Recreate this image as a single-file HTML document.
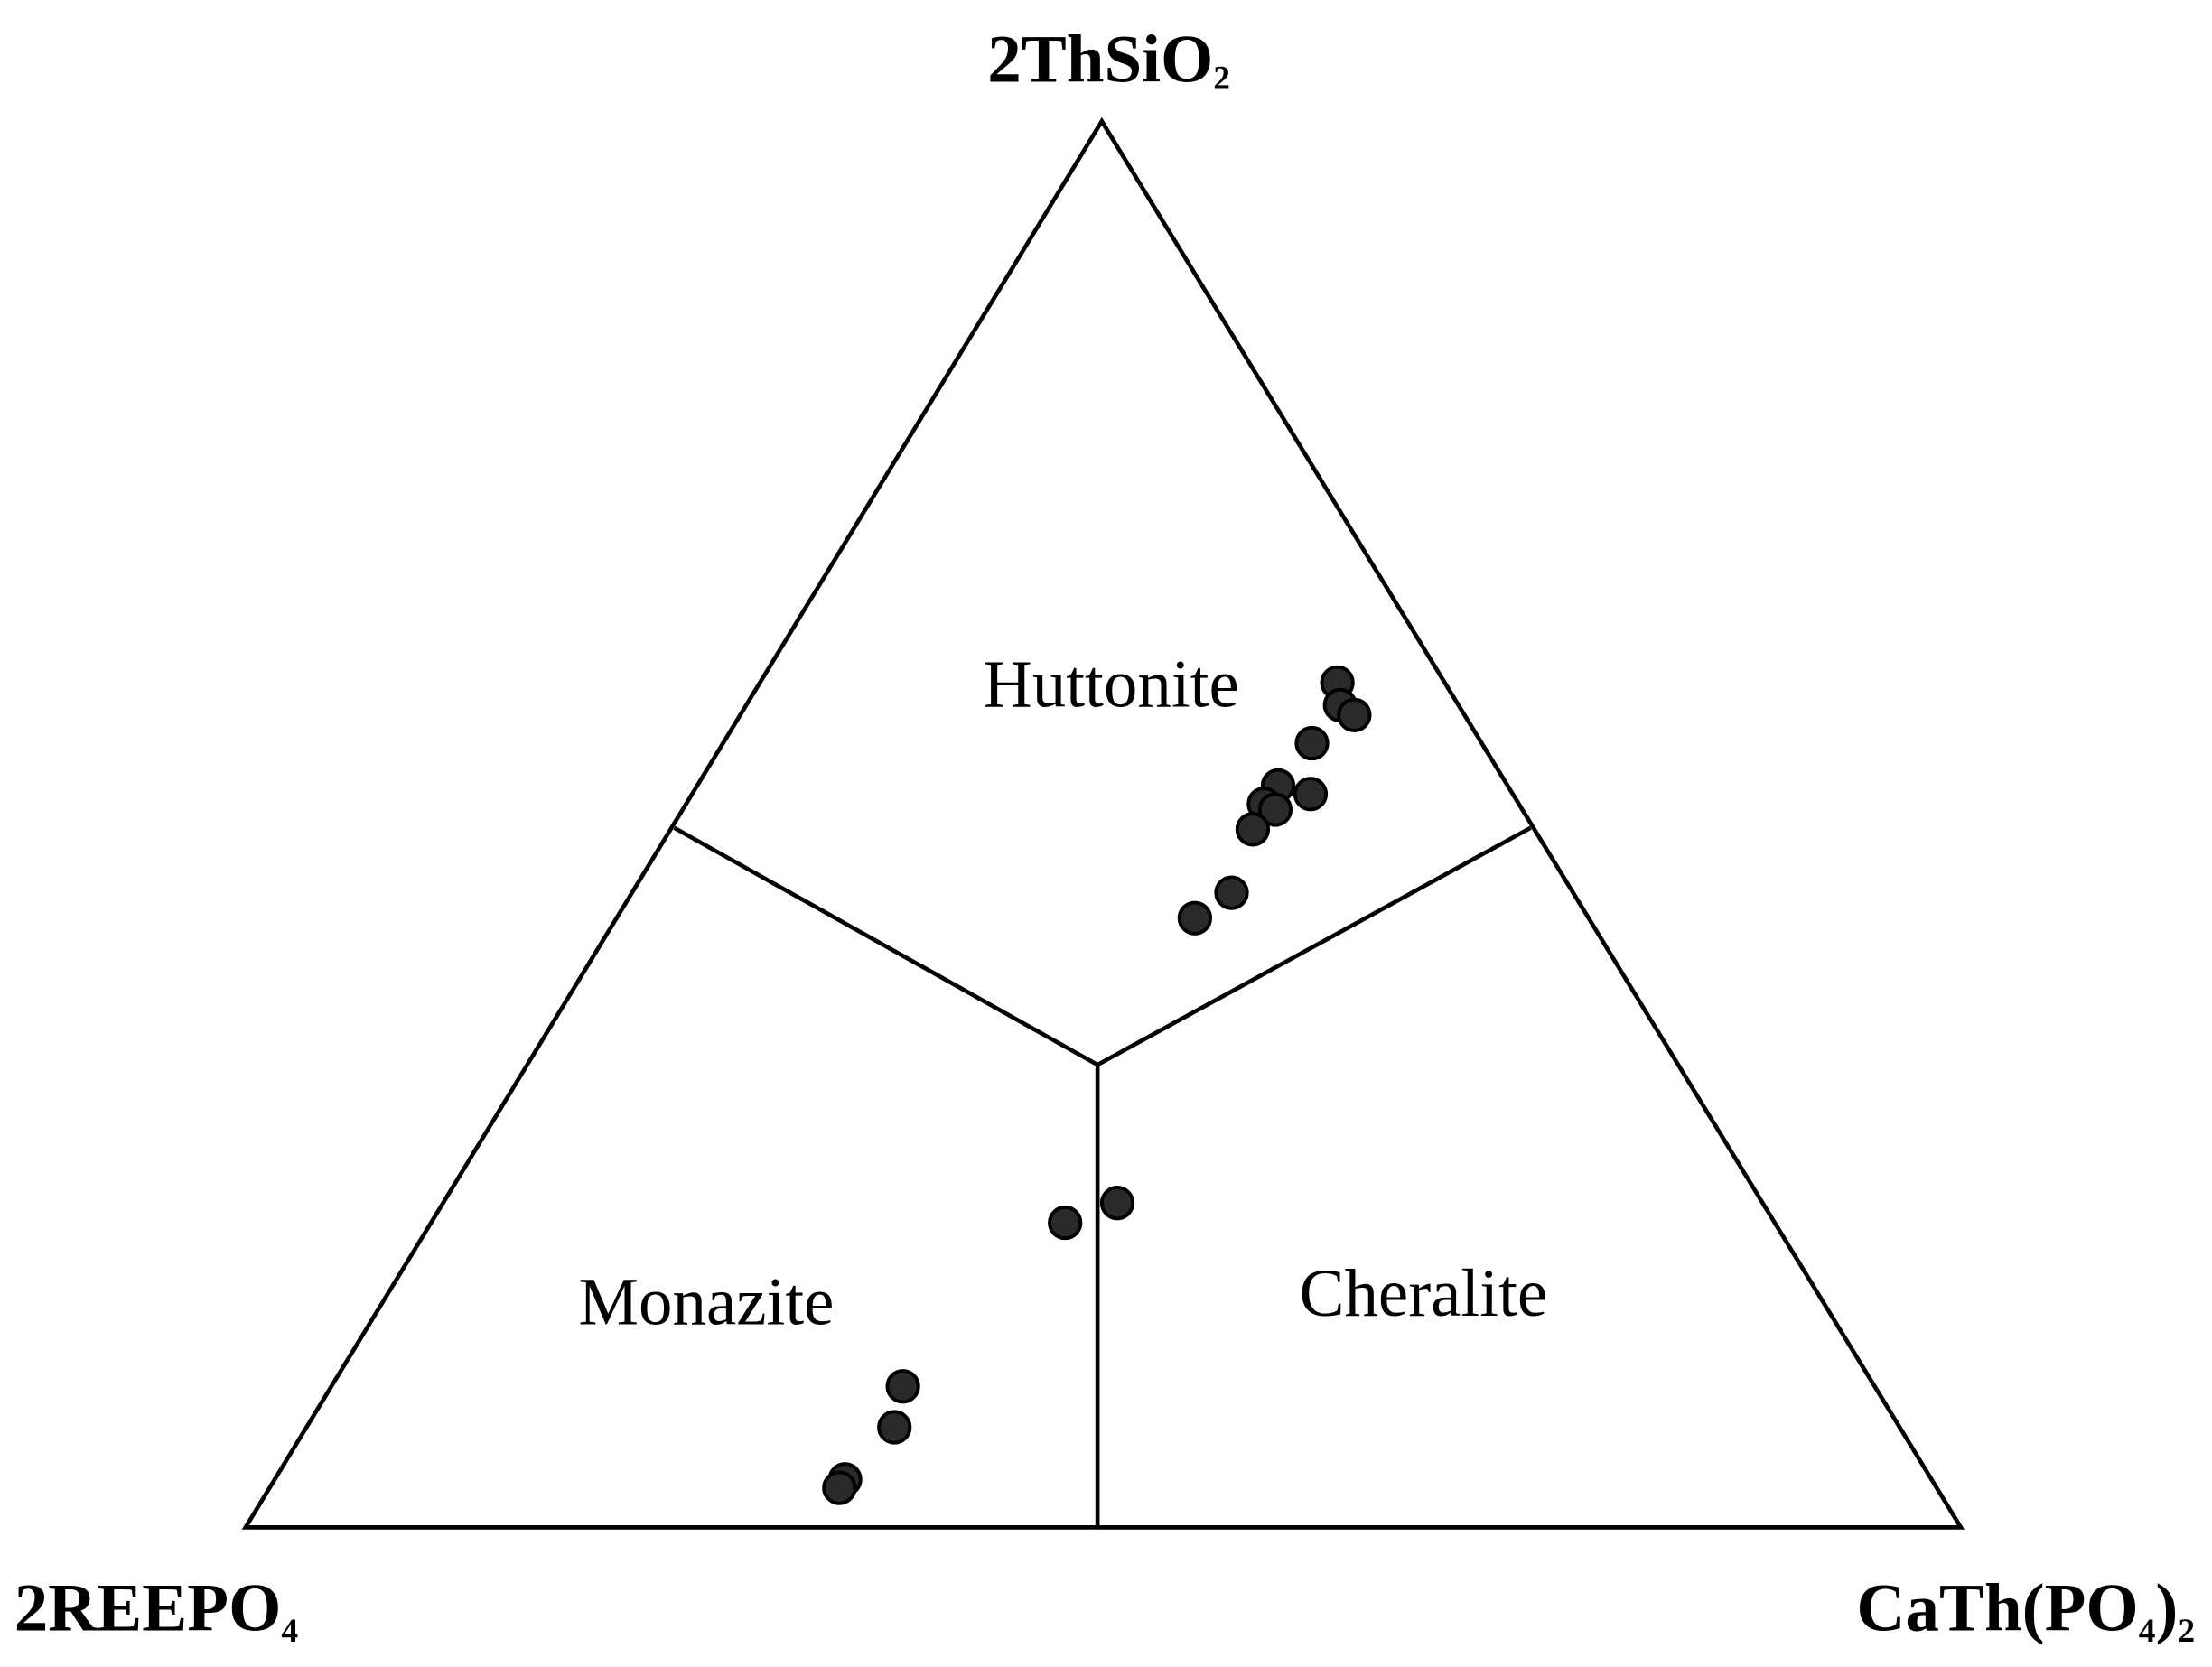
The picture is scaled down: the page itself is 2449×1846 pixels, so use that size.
<!DOCTYPE html>
<html><head><meta charset="utf-8"><style>html,body{margin:0;padding:0;background:#fff}svg{display:block}</style></head>
<body>
<svg width="2449" height="1846" viewBox="0 0 1568 1182" xmlns="http://www.w3.org/2000/svg">
<rect width="1568" height="1182" fill="#fff"/>
<g stroke="#000" stroke-width="3" fill="none" stroke-linejoin="miter">
<polygon points="781,86 174,1083 1390,1083"/>
<polyline points="478,587 778,755 1085,587"/>
<line x1="778" y1="755" x2="778" y2="1083"/>
</g>
<g fill="#2a2a2a" stroke="#000" stroke-width="2.5">
<circle cx="948" cy="484" r="11"/>
<circle cx="950" cy="500" r="11"/>
<circle cx="960" cy="507" r="11"/>
<circle cx="930" cy="527" r="11"/>
<circle cx="906" cy="557" r="11"/>
<circle cx="896" cy="570" r="11"/>
<circle cx="929" cy="563" r="11"/>
<circle cx="904" cy="574" r="11"/>
<circle cx="888" cy="588" r="11"/>
<circle cx="873" cy="633" r="11"/>
<circle cx="847" cy="651" r="11"/>
<circle cx="792" cy="853" r="11"/>
<circle cx="755" cy="867" r="11"/>
<circle cx="640" cy="983" r="11"/>
<circle cx="634" cy="1012" r="11"/>
<circle cx="599" cy="1049" r="11"/>
<circle cx="595" cy="1055" r="11"/>
</g>
<g font-family="Liberation Serif, serif" fill="#000">
<text x="697" y="501" font-size="48">Huttonite</text>
<text x="410" y="939" font-size="48">Monazite</text>
<text x="921" y="933" font-size="48">Cheralite</text>
<g font-weight="bold" font-size="48">
<text x="700" y="58">2ThSiO<tspan font-size="24" dy="5">2</tspan></text>
<text x="10" y="1156">2REEPO<tspan font-size="24" dy="8">4</tspan></text>
<text x="1316" y="1156">CaTh(PO<tspan font-size="24" dy="8">4</tspan><tspan dy="-8">)</tspan><tspan font-size="24" dy="8">2</tspan></text>
</g>
</g>
</svg>
</body></html>
